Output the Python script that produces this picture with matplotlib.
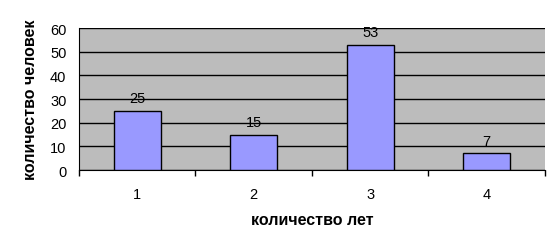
import matplotlib.pyplot as plt

categories = ['1', '2', '3', '4']
values = [25, 15, 53, 7]

plt.rcParams['font.family'] = ['Liberation Sans', 'DejaVu Sans']

fig = plt.figure(figsize=(5.59, 2.51), dpi=100)
ax = fig.add_axes([0.1413, 0.3187, 0.8336, 0.5657])
ax.set_facecolor('#bcbcbc')

x = range(len(values))
ax.bar(x, values, width=0.4, color='#9999ff', edgecolor='black', linewidth=1, zorder=3)
for xi, v in zip(x, values):
    ax.text(xi, v + 2.5, str(v), ha='center', va='bottom', fontsize=10.5, zorder=4)

ax.set_xlim(-0.5, len(values) - 0.5)
ax.set_ylim(0, 60)
ax.set_yticks(range(0, 61, 10))
ax.yaxis.grid(True, color='black', linewidth=1, zorder=1)
ax.tick_params(axis='y', length=0, labelsize=10.5, pad=9)

ax.set_xticks(x)
ax.set_xticklabels(categories)
ax.set_xticks([i - 0.5 for i in range(len(values) + 1)], minor=True)
ax.tick_params(axis='x', which='major', length=0, labelsize=10.5, pad=12)
ax.tick_params(axis='x', which='minor', length=4, width=1, color='black', direction='out')

for side in ['top', 'right']:
    ax.spines[side].set_visible(False)

ax.set_xlabel('количество лет', fontsize=11.5, fontweight='bold', labelpad=8)
ax.set_ylabel('количество человек', fontsize=11.5, fontweight='bold', labelpad=9)

fig.savefig('out.png', dpi=100)
